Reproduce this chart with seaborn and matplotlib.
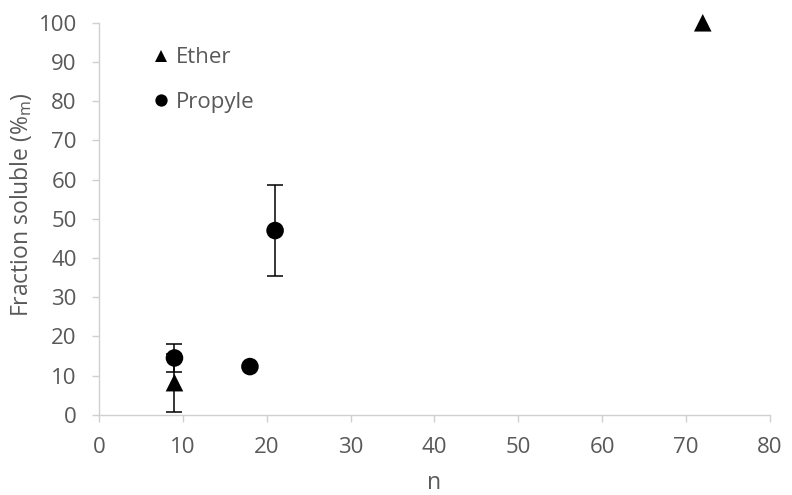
import matplotlib.pyplot as plt
import pandas as pd
import seaborn as sns

# data
ether_n = [9, 72]
ether_frac = [8.2, 100]
ether_err = [7.4, 0]

propyle_n = [9, 18, 21]
propyle_frac = [14.5, 12.3, 47]
propyle_err = [3.6, 0, 11.6]

df = pd.concat([
    pd.DataFrame({"n": ether_n, "frac": ether_frac, "err": ether_err, "serie": "Ether"}),
    pd.DataFrame({"n": propyle_n, "frac": propyle_frac, "err": propyle_err, "serie": "Propyle"}),
], ignore_index=True)

sns.set_style("white")
plt.rcParams["font.family"] = ["Open Sans", "DejaVu Sans"]

fig = plt.figure(figsize=(7.92, 4.95), dpi=100)
ax = fig.add_axes([0.125, 0.162, 0.847, 0.792])

for name in ["Ether", "Propyle"]:
    sub = df[(df.serie == name) & (df.err > 0)]
    ax.errorbar(sub["n"], sub["frac"], yerr=sub["err"], fmt="none",
                ecolor="black", elinewidth=1.1, capsize=5.5, capthick=1.1, zorder=2)

sns.scatterplot(data=df, x="n", y="frac", style="serie",
                markers={"Ether": "^", "Propyle": "o"},
                color="black", s=160, edgecolor="black", linewidth=0,
                ax=ax, zorder=3, clip_on=False)

ax.set_xlim(0, 80)
ax.set_ylim(0, 100)
ax.set_xticks(range(0, 81, 10))
ax.set_yticks(range(0, 101, 10))
ax.tick_params(axis="both", labelsize=16, labelcolor="#595959",
               length=5, width=1, color="#d0d0d0", direction="out")
ax.tick_params(axis="x", bottom=True, pad=11)
ax.tick_params(axis="y", left=True, pad=11)
for s in ["top", "right"]:
    ax.spines[s].set_visible(False)
for s in ["bottom", "left"]:
    ax.spines[s].set_color("#d0d0d0")
    ax.spines[s].set_linewidth(1)

ax.set_xlabel("n", fontsize=16.5, color="#595959", labelpad=9)
ax.set_ylabel("Fraction soluble (%$_\\mathregular{m}$)", fontsize=16.5, color="#595959")
ax.yaxis.set_label_coords(-0.097, 0.537)

leg = ax.legend(loc="upper left", bbox_to_anchor=(0.062, 0.96), frameon=False,
                fontsize=16, handlelength=1.0, handletextpad=0.2,
                labelspacing=1.05, markerscale=0.7, borderaxespad=0)
for t in leg.get_texts():
    t.set_color("#595959")

fig.savefig("out.png", dpi=100)
